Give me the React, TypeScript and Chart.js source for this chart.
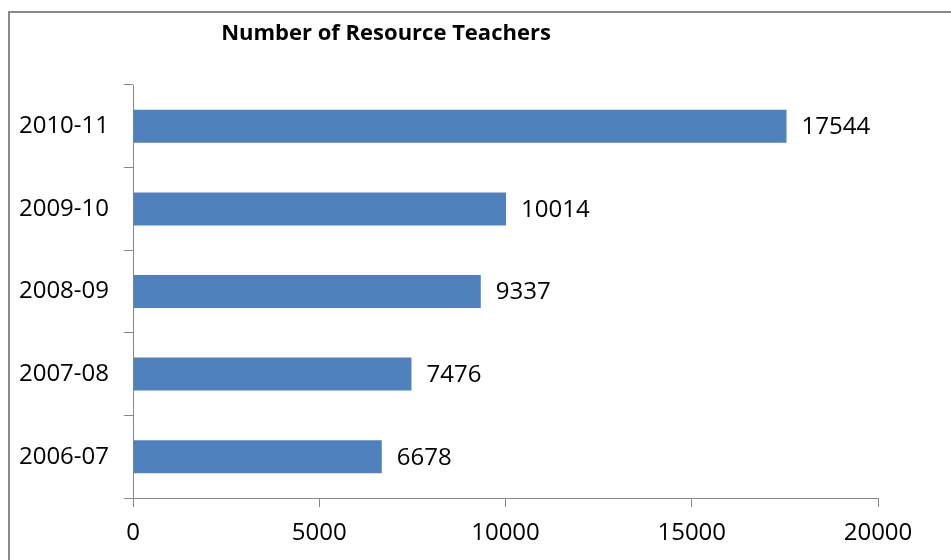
import React, { useEffect, useRef } from "react";
import { Chart, registerables } from "chart.js";

Chart.register(...registerables);

const TITLE = "Number of Resource Teachers";
const years = ["2006-07", "2007-08", "2008-09", "2009-10", "2010-11"];
const teachers = [6678, 7476, 9337, 10014, 17544];
const xTicks = [0, 5000, 10000, 15000, 20000];

const FONT = "'Open Sans', 'Liberation Sans', sans-serif";

export default function App() {
  const ref = useRef<HTMLCanvasElement | null>(null);

  useEffect(() => {
    const canvas = ref.current;
    if (!canvas) return;

    const framePlugin = {
      id: "frame",
      beforeDraw(chart: any) {
        const ctx = chart.ctx;
        ctx.save();
        ctx.fillStyle = "#ffffff";
        ctx.fillRect(0, 0, chart.width, chart.height);
        ctx.strokeStyle = "#888888";
        ctx.lineWidth = 2;
        ctx.strokeRect(9, 12, chart.width + 20, chart.height + 20);
        ctx.restore();
      },
      afterDraw(chart: any) {
        const ctx = chart.ctx;
        ctx.save();
        ctx.font = `bold 22px ${FONT}`;
        ctx.fillStyle = "#000000";
        ctx.textAlign = "center";
        ctx.textBaseline = "middle";
        ctx.fillText(TITLE, 386, 34);
        ctx.restore();
      },
    };

    const labelPlugin = {
      id: "valueLabels",
      afterDatasetsDraw(chart: any) {
        const ctx = chart.ctx;
        const meta = chart.getDatasetMeta(0);
        ctx.save();
        ctx.font = `24px ${FONT}`;
        ctx.fillStyle = "#000000";
        ctx.textAlign = "left";
        ctx.textBaseline = "middle";
        meta.data.forEach((bar: any, i: number) => {
          ctx.fillText(String(teachers[i]), bar.x + 15, bar.y + 1);
        });
        ctx.restore();
      },
    };

    const chart = new Chart(canvas, {
      type: "bar",
      data: {
        labels: years,
        datasets: [
          {
            data: teachers,
            backgroundColor: "#4F81BD",
            borderWidth: 0,
            categoryPercentage: 1,
            barPercentage: 0.4,
          },
        ],
      },
      options: {
        indexAxis: "y",
        animation: false,
        responsive: false,
        maintainAspectRatio: false,
        layout: { padding: { left: 0, top: 85, right: 73, bottom: 0 } },
        plugins: {
          legend: { display: false },
          title: { display: false },
          tooltip: { enabled: false },
        },
        scales: {
          x: {
            type: "linear",
            min: 0,
            max: 20000,
            afterBuildTicks(scale: any) {
              scale.ticks = xTicks.map((v) => ({ value: v }));
            },
            afterFit(scale: any) {
              scale.height = 62;
            },
            border: { display: true, color: "#888888", width: 1 },
            grid: {
              drawOnChartArea: false,
              drawTicks: true,
              tickLength: 9,
              color: "#888888",
            },
            ticks: {
              color: "#000000",
              font: { family: FONT, size: 24 },
              padding: 12,
              maxRotation: 0,
              callback: (v: any) => String(v),
            },
          },
          y: {
            type: "category",
            reverse: true,
            afterFit(scale: any) {
              scale.width = 133;
            },
            border: { display: true, color: "#888888", width: 1 },
            grid: {
              offset: true,
              drawOnChartArea: false,
              drawTicks: true,
              tickLength: 9,
              color: "#888888",
            },
            ticks: {
              color: "#000000",
              font: { family: FONT, size: 24 },
              padding: 15,
            },
          },
        },
      },
      plugins: [framePlugin, labelPlugin],
    } as any);

    return () => chart.destroy();
  }, []);

  return (
    <div style={{ position: "fixed", left: 0, top: 0, width: 951, height: 560, background: "#fff" }}>
      <canvas ref={ref} width={951} height={560} style={{ display: "block", width: 951, height: 560 }} />
    </div>
  );
}
